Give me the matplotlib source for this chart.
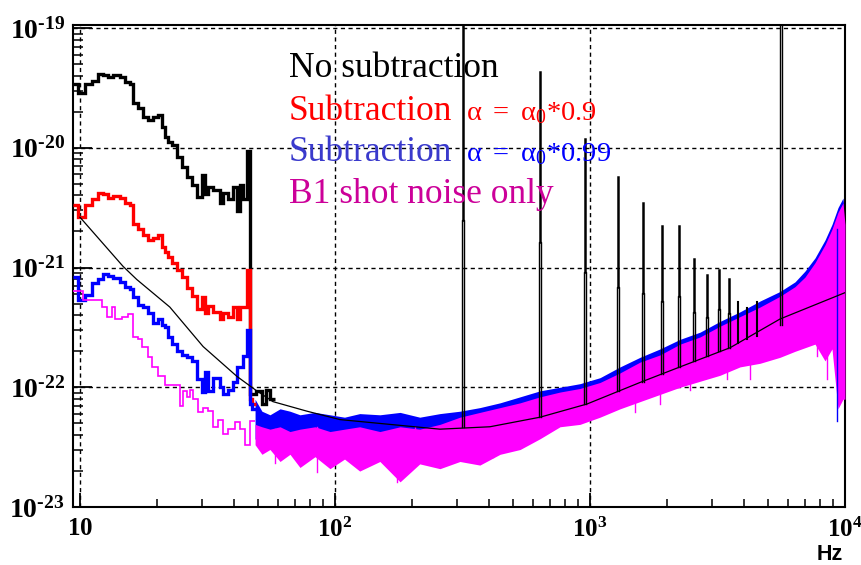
import numpy as np
import matplotlib
matplotlib.use("Agg")
import matplotlib.pyplot as plt
from matplotlib.ticker import FixedLocator, FuncFormatter, NullFormatter

plt.rcParams['font.family'] = ['Liberation Serif', 'DejaVu Serif']
plt.rcParams['mathtext.fontset'] = 'custom'
plt.rcParams['mathtext.rm'] = 'Liberation Serif'
plt.rcParams['mathtext.it'] = 'Liberation Serif'
plt.rcParams['mathtext.bf'] = 'Liberation Serif:bold'

# ================== data ==================
# amplitudes are kept as log10 values

# low frequency bins, Hz
LF_EDGES = [9.39, 9.82, 10.46, 11.14, 11.77, 12.31, 12.88, 13.47, 14.35, 15.01,
            15.71, 16.14, 16.88, 17.66, 18.48, 19.33, 20.22, 20.97, 21.54, 22.13,
            22.95, 24.01, 25.12, 26.28, 27.49, 28.76, 30.09, 30.92, 31.77, 33.24,
            35.40, 36.38, 38.05, 39.81, 41.28, 42.42, 43.58, 45.18, 46.42, 47.27,
            49.02, 51.73, 53.64, 55.62, 58.19]

no_sub_lf = [-19.47, -19.54, -19.47, -19.44, -19.38, -19.39, -19.41, -19.39, -19.41, -19.45,
             -19.47, -19.63, -19.67, -19.74, -19.77, -19.74, -19.73, -19.83, -19.91, -19.95,
             -19.98, -20.08, -20.16, -20.24, -20.31, -20.41, -20.23, -20.39, -20.33, -20.35,
             -20.46, -20.38, -20.43, -20.33, -20.53, -20.31, -20.43, -20.03,
             -22.06, -22.06, -22.03, -22.14, -22.02, -22.10]

sub09_lf = [-20.48, -20.58, -20.48, -20.43, -20.38, -20.39, -20.42, -20.40, -20.42, -20.46,
            -20.48, -20.64, -20.68, -20.73, -20.77, -20.75, -20.73, -20.83, -20.87, -20.91,
            -20.96, -21.02, -21.08, -21.17, -21.24, -21.35, -21.25, -21.38, -21.32, -21.37,
            -21.43, -21.38, -21.41, -21.33, -21.43, -21.33, -21.33, -21.02,
            -22.10, -22.14]

sub099_lf = [-21.08, -21.27, -21.23, -21.13, -21.10, -21.05, -21.07, -21.09, -21.12, -21.16,
             -21.18, -21.25, -21.31, -21.33, -21.38, -21.46, -21.43, -21.48, -21.50, -21.58,
             -21.64, -21.70, -21.73, -21.75, -21.78, -21.93, -22.04, -21.87, -22.03, -21.92,
             -22.00, -22.06, -22.02, -21.96, -21.83, -21.83, -21.74, -21.52,
             -22.14, -22.18]

SHOT_EDGES = [9.39, 10.27, 12.20, 12.76, 13.35, 13.72, 14.61, 15.43, 16.14, 16.88,
              17.51, 18.48, 19.16, 20.22, 21.54, 24.67, 25.34, 26.28, 27.00, 27.74,
              29.02, 30.36, 31.77, 33.24, 34.77, 36.38, 38.05, 40.54, 42.42, 44.37,
              46.42, 48.57]
shot_lf = [-21.20, -21.27, -21.33, -21.41, -21.33, -21.43, -21.41, -21.39, -21.58, -21.60,
           -21.66, -21.75, -21.83, -21.91, -21.98, -22.16, -22.03, -22.08, -22.02, -22.10,
           -22.21, -22.17, -22.20, -22.33, -22.27, -22.39, -22.35, -22.29, -22.35, -22.48,
           -22.28]

# high frequency noise band (Hz)
band_freq = [48.6, 51.7, 55.6, 60.9, 66.6, 72.9, 83.5, 95.6, 109, 125,
             150, 180, 215, 258, 309, 370, 444, 532, 637, 763,
             914, 1095, 1312, 1571, 1882, 2255, 2701, 3236, 3876, 4642,
             5562, 6367, 6967, 7628, 8350, 8893, 9387, 9822, 10000]
blue_top = [-22.10, -22.20, -22.23, -22.18, -22.20, -22.23, -22.21, -22.23, -22.25, -22.22,
            -22.23, -22.21, -22.25, -22.22, -22.20, -22.17, -22.13, -22.08, -22.03, -22.00,
            -21.97, -21.92, -21.83, -21.75, -21.68, -21.60, -21.54, -21.45, -21.37, -21.28,
            -21.20, -21.12, -21.03, -20.92, -20.77, -20.64, -20.50, -20.42, -20.60]
blue_bot = [-22.43, -22.50, -22.48, -22.52, -22.48, -22.52, -22.49, -22.53, -22.50, -22.52,
            -22.53, -22.50, -22.52, -22.48, -22.35, -22.31, -22.27, -22.23, -22.18, -22.14,
            -22.11, -22.06, -21.98, -21.89, -21.83, -21.74, -21.68, -21.59, -21.51, -21.43,
            -21.34, -21.26, -21.18, -21.06, -20.91, -20.78, -20.64, -20.56, -20.74]
mag_top = [-22.31, -22.33, -22.35, -22.33, -22.37, -22.35, -22.33, -22.37, -22.35, -22.33,
           -22.37, -22.33, -22.35, -22.31, -22.25, -22.21, -22.17, -22.13, -22.08, -22.04,
           -22.01, -21.96, -21.88, -21.79, -21.73, -21.64, -21.58, -21.49, -21.41, -21.33,
           -21.24, -21.16, -21.08, -20.96, -20.81, -20.68, -20.54, -20.46, -20.64]
mag_bot = [-22.48, -22.56, -22.52, -22.62, -22.56, -22.67, -22.58, -22.68, -22.60, -22.70,
           -22.62, -22.79, -22.64, -22.68, -22.62, -22.65, -22.56, -22.52, -22.43, -22.33,
           -22.31, -22.25, -22.18, -22.12, -22.06, -22.00, -21.95, -21.90, -21.83, -21.80,
           -21.75, -21.70, -21.67, -21.64, -21.78, -21.68, -22.18, -22.10, -22.10]

# deepest downward spikes of the band
dip_freq = [58.2, 85.0, 175, 206, 309, 417, 1502, 1882, 2466, 3446, 4242, 7767, 8502, 9303]
dip_val = [-22.63, -22.71, -22.79, -22.58, -22.58, -22.58, -22.21, -22.14, -22.02, -21.93,
           -21.93, -21.74, -21.93, -22.28]
dip_col = ['magenta'] * 13 + ['blue']

# expected noise curve (thin black)
model_freq = [10, 14.75, 16.7, 22.5, 30.4, 41.3, 48.6, 57.1, 77.7, 104.6,
              164, 258, 405, 637, 973, 1571, 2255, 3542, 5562, 10000]
model_val = [-20.58, -20.99, -21.10, -21.33, -21.66, -21.91, -22.02, -22.12, -22.20, -22.27,
             -22.31, -22.35, -22.33, -22.25, -22.14, -21.96, -21.83, -21.67, -21.43, -21.21]

# lines of the unsubtracted spectrum
line_freq = [318, 637, 955, 1288, 1614, 1916, 2233, 2557, 2875, 3205, 3510, 3805, 4126, 4519, 5610]
line_top = [-18.90, -19.37, -19.93, -20.24, -20.46, -20.65, -20.65, -20.93, -21.06, -21.02,
            -21.10, -21.29, -21.34, -21.29, -18.90]
line_mid = [-20.60, -20.79, -21.04, -21.16, -21.21, -21.28, -21.24, -21.37, -21.41, -21.35,
            -21.38, None, None, None, -18.90]
line_base = [-22.33, -22.25, -22.14, -22.03, -21.96, -21.89, -21.83, -21.78, -21.74, -21.70,
             -21.67, -21.63, -21.60, -21.57, -21.48]

X_DECADES = [1, 2, 3, 4]
Y_DECADES = [-23, -22, -21, -20, -19]


def amp(a):
    return np.power(10.0, np.array(a, dtype=float))


# ================== figure ==================
W, H = 862, 565
fig = plt.figure(figsize=(W / 100, H / 100), dpi=100)
ax = fig.add_axes([73 / W, 1 - 507 / H, 772 / W, 482 / H])
ax.set_xscale('log')
ax.set_yscale('log')
ax.set_xlim(9.39, 1e4)
ax.set_ylim(1e-23, 1.06e-19)

# grid
for d in X_DECADES[:-1]:
    ax.axvline(10.0 ** d, color='black', lw=1.0, ls=(0, (3, 2.5)), zorder=0.5)
for d in Y_DECADES:
    ax.axhline(10.0 ** d, color='black', lw=1.0, ls=(0, (3, 2.5)), zorder=0.5)

# noise band
ax.fill_between(band_freq, amp(blue_bot), amp(blue_top), color='blue', lw=0, zorder=2)
ax.fill_between(band_freq, amp(mag_bot), amp(mag_top), color='magenta', lw=0, zorder=3)
for f, v, c in zip(dip_freq, dip_val, dip_col):
    ax.plot([f, f], [amp(v), amp(mag_top[np.searchsorted(band_freq, f) - 1])], color=c, lw=1.0, zorder=3)

# low frequency histograms
ax.stairs(amp(no_sub_lf), LF_EDGES, baseline=None, color='black', lw=2.4, zorder=4)
ax.stairs(amp(sub09_lf), LF_EDGES[:len(sub09_lf) + 1], baseline=None, color='red', lw=2.4, zorder=4.1)
ax.stairs(amp(sub099_lf), LF_EDGES[:len(sub099_lf) + 1], baseline=None, color='blue', lw=2.4, zorder=4.2)
ax.stairs(amp(shot_lf), SHOT_EDGES, baseline=None, color='magenta', lw=1.2, zorder=4.3)

# expected curve
ax.plot(model_freq, amp(model_val), color='black', lw=0.9, zorder=5)

# lines
hw = 10 ** (1.1 / 255)
for f, top, mid, base in zip(line_freq, line_top, line_mid, line_base):
    if mid is None:
        ax.plot([f, f], amp([base, top]), color='black', lw=1.5, zorder=6)
        continue
    ax.plot([f / hw, f / hw, f * hw, f * hw], amp([base, mid, mid, base]), color='black', lw=1.0, zorder=6)
    if top > mid:
        ax.plot([f, f], amp([mid, top]), color='black', lw=1.8, zorder=6)

# axes style
for s in ax.spines.values():
    s.set_linewidth(1.5)
ax.xaxis.set_major_locator(FixedLocator(10.0 ** np.array(X_DECADES)))
ax.yaxis.set_major_locator(FixedLocator(10.0 ** np.array(Y_DECADES)))
ax.xaxis.set_minor_locator(FixedLocator(np.outer(10.0 ** np.array(X_DECADES[:-1]), np.arange(2, 10)).ravel()))
ax.yaxis.set_minor_locator(FixedLocator(np.outer(10.0 ** np.array(Y_DECADES[:-1]), np.arange(2, 10)).ravel()))
ax.xaxis.set_minor_formatter(NullFormatter())
ax.yaxis.set_minor_formatter(NullFormatter())

HYPHEN = '\u2010'


def xfmt(v, pos):
    e = int(round(np.log10(v)))
    return r'$\mathbf{10}$' if e == 1 else r'$\mathbf{10^{%d}}$' % e


def yfmt(v, pos):
    e = int(round(np.log10(v)))
    return r'$\mathbf{10^{' + HYPHEN + str(abs(e)) + '}}$'


ax.xaxis.set_major_formatter(FuncFormatter(xfmt))
ax.yaxis.set_major_formatter(FuncFormatter(yfmt))
ax.tick_params(axis='y', which='major', direction='in', length=14, width=1.3, labelsize=20, pad=6)
ax.tick_params(axis='y', which='minor', direction='in', length=7, width=1.1)
ax.tick_params(axis='x', which='major', direction='in', length=10, width=1.3, labelsize=18, pad=8)
ax.tick_params(axis='x', which='minor', direction='in', length=6, width=1.1)


# legend text
def ftext(x, y, s, **kw):
    fig.text(x / W, 1 - y / H, s, va='baseline', **kw)


ftext(289, 77, 'No subtraction', fontsize=25.5, color='black')
ftext(289, 120, 'Subtraction', fontsize=25.5, color='red')
ftext(466, 120, r'$\alpha\ =\ \alpha_0$*0.9', fontsize=20.5, color='red')
ftext(289, 161, 'Subtraction', fontsize=25.5, color='#3a3acc')
ftext(466, 161, r'$\alpha\ =\ \alpha_0$*0.99', fontsize=20.5, color='blue')
ftext(289, 203, 'B1 shot noise only', fontsize=25.5, color='#cc0099')
ftext(843, 560, 'Hz', fontsize=15.5, fontweight='bold', family='Liberation Sans', ha='right')

fig.savefig('out.png', dpi=100)
